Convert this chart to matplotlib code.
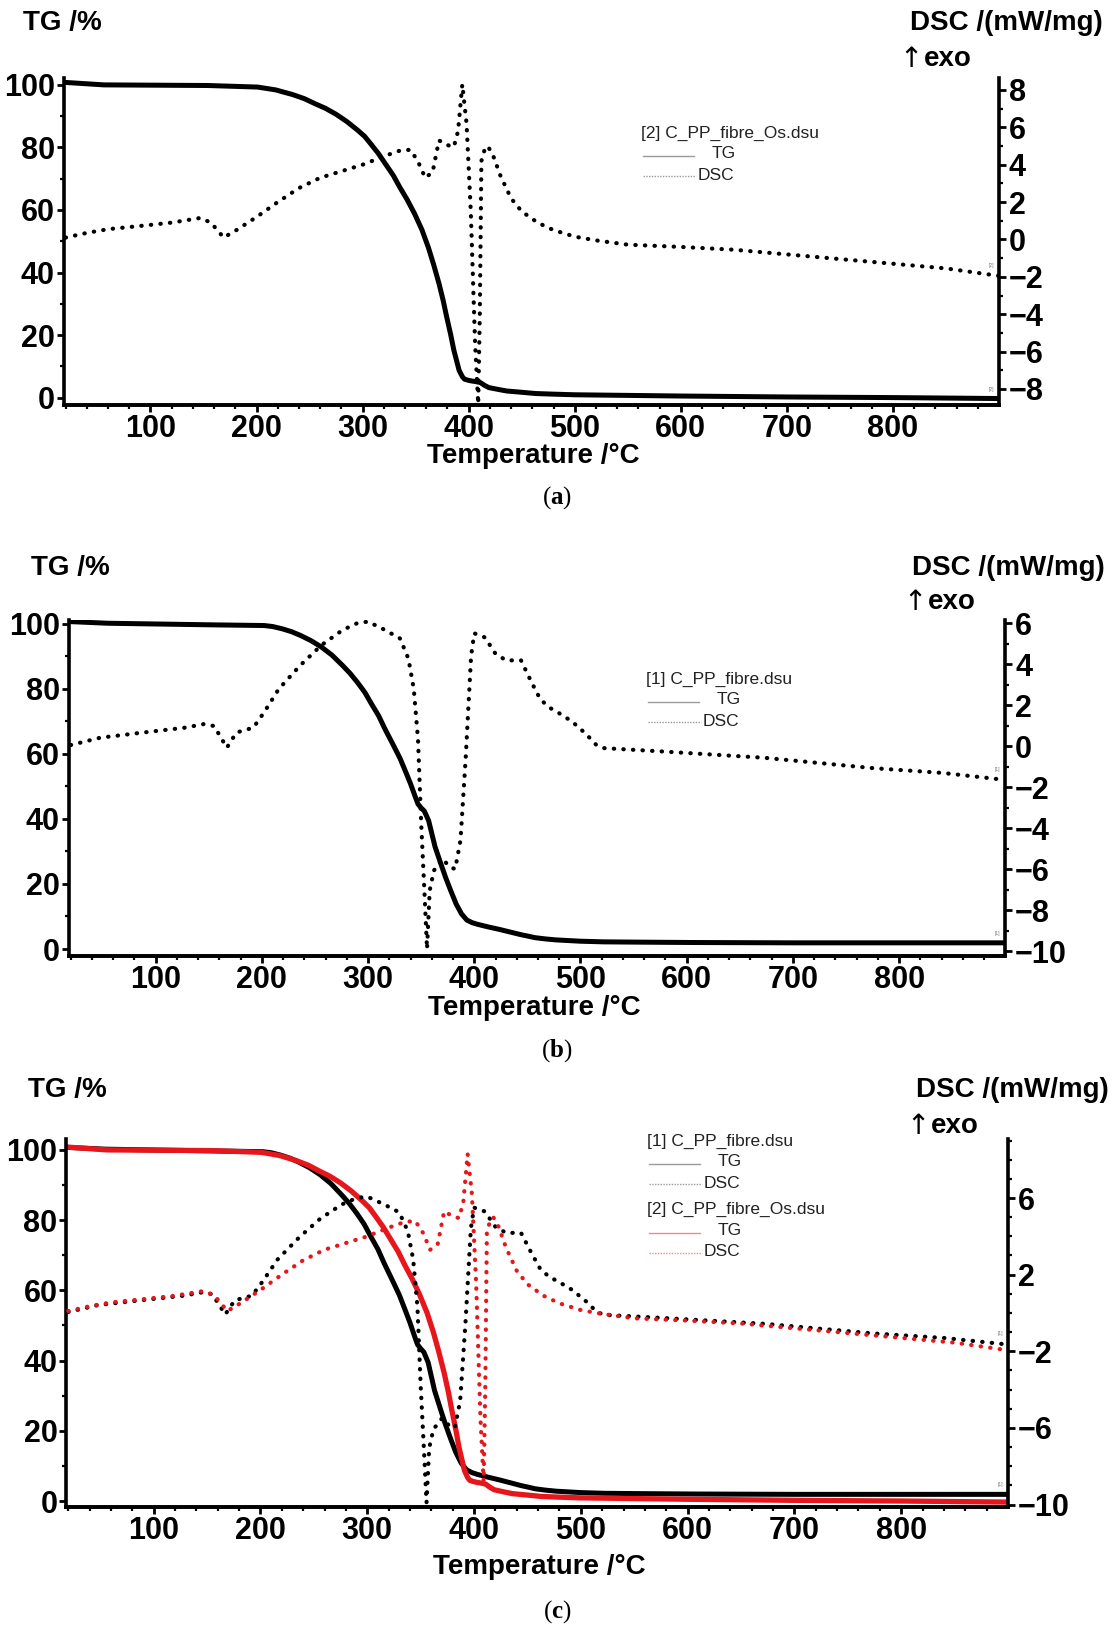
import numpy as np
import matplotlib
matplotlib.use("Agg")
import matplotlib.pyplot as plt
from matplotlib.lines import Line2D
from matplotlib.ticker import FixedLocator

plt.rcParams["font.family"] = ["Liberation Sans", "DejaVu Sans"]
plt.rcParams["font.weight"] = "bold"
plt.rcParams["mathtext.fontset"] = "custom"
plt.rcParams["mathtext.rm"] = "Liberation Serif"
plt.rcParams["mathtext.bf"] = "Liberation Serif:bold"
plt.rcParams["axes.unicode_minus"] = True

# ---------------- data ----------------
# [1] C_PP_fibre.dsu
tg1_temp = [20, 55, 155, 202, 210, 219, 228, 236, 246, 256, 266, 276, 283, 290,
            297, 303, 310, 316, 323, 330, 335, 340, 344, 347, 350, 353, 357, 360,
            363, 368, 373, 378, 383, 388, 393, 398, 403, 413, 424, 434, 444, 450,
            457, 467, 477, 500, 522, 560, 606, 700, 808, 900]
tg1_mass = [100.7, 100.2, 99.7, 99.5, 99.2, 98.5, 97.6, 96.5, 94.9, 92.9, 90.4,
            87.2, 84.8, 82.0, 78.9, 75.5, 71.7, 67.6, 63.2, 58.7, 54.8, 50.8,
            47.2, 44.6, 43.4, 42.4, 39.5, 35.5, 31.5, 26.7, 22.0, 17.8, 13.8,
            10.8, 8.9, 8.1, 7.6, 6.8, 6.0, 5.2, 4.4, 4.0, 3.5, 3.1, 2.8, 2.4,
            2.2, 2.1, 2.0, 1.9, 1.9, 1.9]
dsc1_temp = [20, 48, 88, 128, 145, 155, 167, 176, 192, 202, 216, 236, 256, 276,
             290, 300, 316, 330, 338, 343, 347, 350, 353, 355.5, 358, 362, 370,
             377, 382, 387, 392, 397, 400, 410, 420, 430, 444, 454, 462, 470,
             480, 492, 505, 515, 522, 573, 673, 774, 841, 900]
dsc1_val = [0.05, 0.41, 0.66, 0.9, 1.07, 0.98, -0.08, 0.66, 0.9, 1.64, 2.79,
            3.93, 4.92, 5.66, 6.0, 6.07, 5.66, 5.25, 4.26, 2.79, 0.33, -3.77,
            -7.05, -9.9, -7.05, -6.07, -5.5, -5.9, -6.0, -4.6, -0.5, 4.4, 5.5,
            5.3, 4.5, 4.18, 4.18, 3.1, 2.3, 1.9, 1.6, 1.2, 0.6, 0.05, -0.1,
            -0.25, -0.57, -1.07, -1.31, -1.65]

# [2] C_PP_fibre_Os.dsu
tg2_temp = [19, 56, 154, 201, 218, 234, 245, 255, 265, 275, 285, 295, 302, 308,
            315, 322, 329, 335, 342, 349, 356, 362, 367, 372, 376, 379, 383, 386,
            389, 391, 394, 396, 400, 403, 407, 411, 415, 419, 428, 436, 450, 463,
            480, 500, 600, 700, 800, 900]
tg2_mass = [100.8, 100.0, 99.8, 99.3, 98.4, 96.9, 95.6, 94.0, 92.5, 90.6, 88.3,
            85.6, 83.5, 81.0, 78.0, 74.5, 71.0, 67.3, 63.3, 58.8, 53.6, 48.0,
            42.5, 36.5, 31.0, 26.2, 20.2, 15.2, 11.3, 8.7, 6.7, 5.9, 5.5, 5.3,
            5.1, 4.8, 3.9, 3.2, 2.6, 2.1, 1.7, 1.3, 1.1, 0.9, 0.5, 0.2, 0.0, -0.3]
dsc2_temp = [20, 40, 60, 90, 120, 147, 157, 169, 181, 200, 220, 240, 260, 280,
             300, 320, 335, 345, 352, 359, 366, 372, 380, 386, 390, 394, 398,
             402, 406, 409, 410.5, 412, 415, 418, 423, 430, 440, 450, 465, 480,
             500, 520, 550, 600, 650, 700, 750, 800, 850, 900]
dsc2_val = [0.1, 0.35, 0.55, 0.72, 0.9, 1.15, 0.9, 0.1, 0.5, 1.2, 2.0, 2.75, 3.3,
            3.65, 4.0, 4.45, 4.75, 4.8, 4.2, 3.3, 3.6, 5.3, 5.05, 4.95, 5.8, 8.3,
            6.2, 1.5, -5.5, -8.8, -4.0, 4.2, 4.8, 5.0, 4.5, 3.4, 2.2, 1.5, 0.9,
            0.5, 0.15, -0.05, -0.28, -0.4, -0.55, -0.8, -1.05, -1.3, -1.55, -1.95]

x_major = [100, 200, 300, 400, 500, 600, 700, 800]
tg_major = [0, 20, 40, 60, 80, 100]

# ---------------- figure ----------------
W, H = 1113, 1628
fig = plt.figure(figsize=(W / 100, H / 100), dpi=100)
RED = "#e5161c"
DOTS = (0, (0.1, 2.2))


def fx(px):
    return px / W


def fy(py):
    return 1 - py / H


def make_panel(left, right, top, bottom, tg_lim, dsc_lim, dsc_ticks):
    ax = fig.add_axes([fx(left), fy(bottom), (right - left) / W, (bottom - top) / H])
    ax2 = ax.twinx()
    ax.set_xlim(18, 900)
    ax.set_ylim(*tg_lim)
    ax2.set_ylim(*dsc_lim)
    ax.xaxis.set_major_locator(FixedLocator(x_major))
    ax.xaxis.set_minor_locator(FixedLocator(np.arange(20, 900, 20)))
    ax.yaxis.set_major_locator(FixedLocator(tg_major))
    ax.yaxis.set_minor_locator(FixedLocator(np.arange(10, 100, 20)))
    ax2.yaxis.set_major_locator(FixedLocator(dsc_ticks))
    ax2.yaxis.set_minor_locator(FixedLocator(np.arange(np.ceil(dsc_lim[0]), dsc_lim[1], 1)))
    for a in (ax, ax2):
        a.spines["top"].set_visible(False)
        for s in a.spines.values():
            s.set_linewidth(2.6)
        a.patch.set_visible(False)
    ax.spines["right"].set_visible(False)
    ax2.spines["left"].set_visible(False)
    ax.tick_params(which="major", direction="out", length=5, width=2, labelsize=22, pad=1.2)
    ax.tick_params(which="minor", direction="out", length=3, width=1.6)
    ax.tick_params(axis="x", which="major", pad=1.5)
    ax2.tick_params(which="major", direction="out", length=5, width=2, labelsize=22, pad=2)
    ax2.tick_params(which="minor", direction="out", length=3, width=1.6)
    return ax, ax2


def titles(y_top, tg_x, dsc_right, arrow_x, exo_y, xlab_x, xlab_y, lab_x, lab_y, letter):
    fig.text(fx(tg_x), fy(y_top), "TG /%", fontsize=20, ha="left", va="center")
    fig.text(fx(dsc_right), fy(y_top), "DSC /(mW/mg)", fontsize=20, ha="right", va="center")
    fig.text(fx(arrow_x), fy(exo_y), "\u2191", fontsize=20, fontweight="normal",
             family=["DejaVu Sans"], ha="left", va="center")
    fig.text(fx(arrow_x + 25), fy(exo_y), "exo", fontsize=20, ha="left", va="center")
    fig.text(fx(xlab_x), fy(xlab_y), "Temperature /\u00b0C", fontsize=20, ha="center", va="center")
    fig.text(fx(lab_x), fy(lab_y), r"($\mathbf{%s}$)" % letter, fontsize=18,
             family="Liberation Serif", fontweight="normal", ha="center", va="center")


def legend_block(x0, y_head, name, color, line_col):
    fig.text(fx(x0), fy(y_head), name, fontsize=12.5, fontweight="normal",
             color="#222222", ha="left", va="center")
    y_tg = y_head + 21
    y_dsc = y_head + 42
    fig.add_artist(Line2D([fx(x0 + 2), fx(x0 + 53)], [fy(y_tg + 2), fy(y_tg + 2)],
                          transform=fig.transFigure, color=line_col, lw=1.0))
    fig.text(fx(x0 + 83), fy(y_tg), "TG", fontsize=12.5, fontweight="normal",
             color="#222222", ha="center", va="center")
    fig.add_artist(Line2D([fx(x0 + 2), fx(x0 + 55)], [fy(y_dsc + 1), fy(y_dsc + 1)],
                          transform=fig.transFigure, color=line_col, lw=1.0,
                          linestyle=(0, (1, 1))))
    fig.text(fx(x0 + 57), fy(y_dsc), "DSC", fontsize=12.5, fontweight="normal",
             color="#222222", ha="left", va="center")


def end_tags(ax2, ax, tg_end, dsc_end, tag, color):
    ax2.annotate(tag, xy=(893, dsc_end), xytext=(0, 6), textcoords="offset points",
                 fontsize=3.5, fontweight="normal", color=color, ha="center", va="bottom")
    ax.annotate(tag, xy=(893, tg_end), xytext=(0, 5), textcoords="offset points",
                fontsize=3.5, fontweight="normal", color=color, ha="center", va="bottom")


# ---- (a) C_PP_fibre_Os ----
axa, axa2 = make_panel(63.5, 999, 78, 405, (-2.37, 102.2), (-8.86, 8.64),
                       np.arange(-8, 9, 2))
axa.plot(tg2_temp, tg2_mass, color="black", lw=3.6, solid_capstyle="round")
axa2.plot(dsc2_temp, dsc2_val, color="black", lw=3.0, linestyle=DOTS, dash_capstyle="round")
end_tags(axa2, axa, tg2_mass[-1], dsc2_val[-1], "[2]", "#777777")
titles(23, 23, 1103, 899, 59, 533, 456, 557, 498, "a")
legend_block(641, 133, "[2] C_PP_fibre_Os.dsu", "black", "#9a9a9a")

# ---- (b) C_PP_fibre ----
axb, axb2 = make_panel(68.6, 1005.3, 620, 956, (-2.15, 101.2), (-10.24, 6.15),
                       np.arange(-10, 7, 2))
axb.plot(tg1_temp, tg1_mass, color="black", lw=3.6, solid_capstyle="round")
axb2.plot(dsc1_temp, dsc1_val, color="black", lw=3.0, linestyle=DOTS, dash_capstyle="round")
end_tags(axb2, axb, tg1_mass[-1], dsc1_val[-1], "[1]", "#777777")
titles(568, 31, 1105, 903, 602, 534, 1008, 557, 1051, "b")
legend_block(646, 679, "[1] C_PP_fibre.dsu", "black", "#9a9a9a")

# ---- (c) comparison ----
axc, axc2 = make_panel(66.1, 1008, 1139, 1507, (-1.7, 103.1), (-10.13, 9.08),
                       np.arange(-10, 7, 4))
axc.plot(tg1_temp, tg1_mass, color="black", lw=3.6, solid_capstyle="round")
axc.plot(tg2_temp, tg2_mass, color=RED, lw=3.8, solid_capstyle="round")
axc2.plot(dsc1_temp, dsc1_val, color="black", lw=3.0, linestyle=DOTS, dash_capstyle="round")
axc2.plot(dsc2_temp, dsc2_val, color=RED, lw=3.0, linestyle=DOTS, dash_capstyle="round")
end_tags(axc2, axc, tg1_mass[-1], dsc1_val[-1], "[1]", "#777777")
titles(1090, 28, 1109, 906, 1126, 539, 1567, 557, 1612, "c")
legend_block(647, 1141, "[1] C_PP_fibre.dsu", "black", "#9a9a9a")
legend_block(647, 1209.5, "[2] C_PP_fibre_Os.dsu", RED, "#f08a8a")

fig.savefig("out.png", dpi=100, facecolor="white")
